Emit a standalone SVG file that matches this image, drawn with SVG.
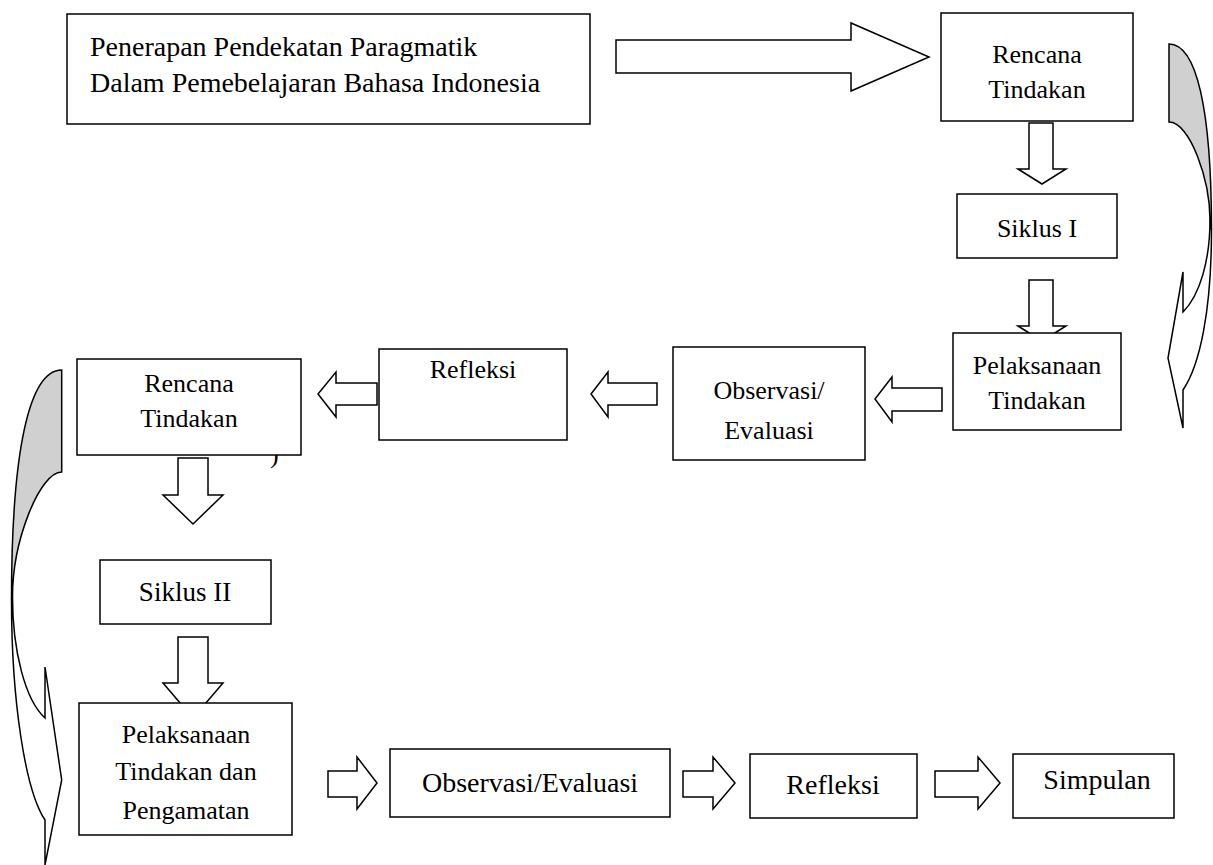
<svg xmlns="http://www.w3.org/2000/svg" width="1213" height="865" viewBox="0 0 1213 865">
<style>
.box{fill:#fff;stroke:#000;stroke-width:1.5}
.arr{fill:#fff;stroke:#000;stroke-width:1.5;stroke-linejoin:miter}
.t{font-family:"Liberation Serif","Times New Roman",serif;font-size:26px;fill:#000}
.b{font-size:28px}
.c{text-anchor:middle}
.gray{fill:#d0d0d0;stroke:#000;stroke-width:1.5}
</style>
<rect width="1213" height="865" fill="#fff"/>
<g id="connectors">
<polygon class="arr" points="616,40 851,40 851,23 929,57 851,91 851,73 616,73"/>
<polygon class="arr" points="1029,123 1053,123 1053,169 1066,169 1042,184 1018,169 1029,169"/>
<polygon class="arr" points="1029,280 1053,280 1053,326 1066,326 1042,341 1018,326 1029,326"/>
<polygon class="arr" points="942,388 892,388 892,377 875,399 892,422 892,411 942,411"/>
<polygon class="arr" points="657,383 608,383 608,372 591,394 608,417 608,405 657,405"/>
<polygon class="arr" points="377,383 336,383 336,372 318,394 336,417 336,405 377,405"/>
<polygon class="arr" points="178,458 208,458 208,495 223,495 193,524 163,495 178,495"/>
<polygon class="arr" points="178,637 208,637 208,683 223,683 193,718 163,683 178,683"/>
<polygon class="arr" points="328,771 357,771 357,757 377,783 357,809 357,797 328,797"/>
<polygon class="arr" points="683,771 713,771 713,757 735,783 713,809 713,797 683,797"/>
<polygon class="arr" points="935,771 978,771 978,757 1000,783 978,809 978,797 935,797"/>
<g id="curve-right">
<path class="gray" d="M1169,44 C1196.6,44 1211.5,109 1211.5,230 L1210,220 C1210,180 1190,122 1169,122 Z"/>
<path class="arr" d="M1210,220 C1210,260 1200,295 1183,312 L1183,272 L1168,358 L1183,428 L1183,390 C1200,365 1211.5,310 1211.5,230 Z"/>
</g>
<g id="curve-left">
<path class="gray" d="M61.7,370 C29.2,370 11.5,450.5 11.5,600 L12.5,597 C12.5,540 40,472 61.7,472 Z"/>
<path class="arr" d="M12.5,597 C12.5,650 25,700 45,718 L45,667 L61.7,780 L45,865 L45,820 C25,790 11.5,700 11.5,600 Z"/>
</g>
</g>
<g id="n1"><rect class="box" x="67" y="14" width="523" height="110"/>
<text class="t b" x="90" y="56">Penerapan Pendekatan Paragmatik</text>
<text class="t b" x="90" y="92">Dalam Pemebelajaran Bahasa Indonesia</text></g>
<g id="n2"><rect class="box" x="941" y="13" width="192" height="108"/>
<text class="t c" x="1037" y="63">Rencana</text><text class="t c" x="1037" y="98">Tindakan</text></g>
<g id="n3"><rect class="box" x="957" y="194" width="160" height="64"/>
<text class="t c" x="1037" y="237">Siklus I</text></g>
<g id="n4"><rect class="box" x="953" y="333" width="168" height="97"/>
<text class="t c" x="1037" y="374">Pelaksanaan</text><text class="t c" x="1037" y="409">Tindakan</text></g>
<g id="n5"><rect class="box" x="673" y="347" width="192" height="113"/>
<text class="t c" x="769" y="399">Observasi/</text><text class="t c" x="769" y="439">Evaluasi</text></g>
<g id="n6"><rect class="box" x="379" y="349" width="188" height="91"/>
<text class="t c" x="473" y="378">Refleksi</text></g>
<text class="t" x="270" y="463">)</text>
<g id="n7"><rect class="box" x="77" y="359" width="224" height="96"/>
<text class="t c" x="189" y="392">Rencana</text><text class="t c" x="189" y="427">Tindakan</text></g>
<g id="n8"><rect class="box" x="100" y="560" width="171" height="64"/>
<text class="t c" x="185" y="601" style="font-size:27px">Siklus II</text></g>
<g id="n9"><rect class="box" x="79" y="703" width="213" height="132"/>
<text class="t c" x="186" y="743">Pelaksanaan</text><text class="t c" x="186" y="780">Tindakan dan</text><text class="t c" x="186" y="819">Pengamatan</text></g>
<g id="n10"><rect class="box" x="390" y="749" width="280" height="68"/>
<text class="t b c" x="530" y="792">Observasi/Evaluasi</text></g>
<g id="n11"><rect class="box" x="750" y="754" width="167" height="64"/>
<text class="t b c" x="833" y="794">Refleksi</text></g>
<g id="n12"><rect class="box" x="1013" y="754" width="161" height="64"/>
<text class="t b c" x="1097" y="789">Simpulan</text></g>
</svg>
